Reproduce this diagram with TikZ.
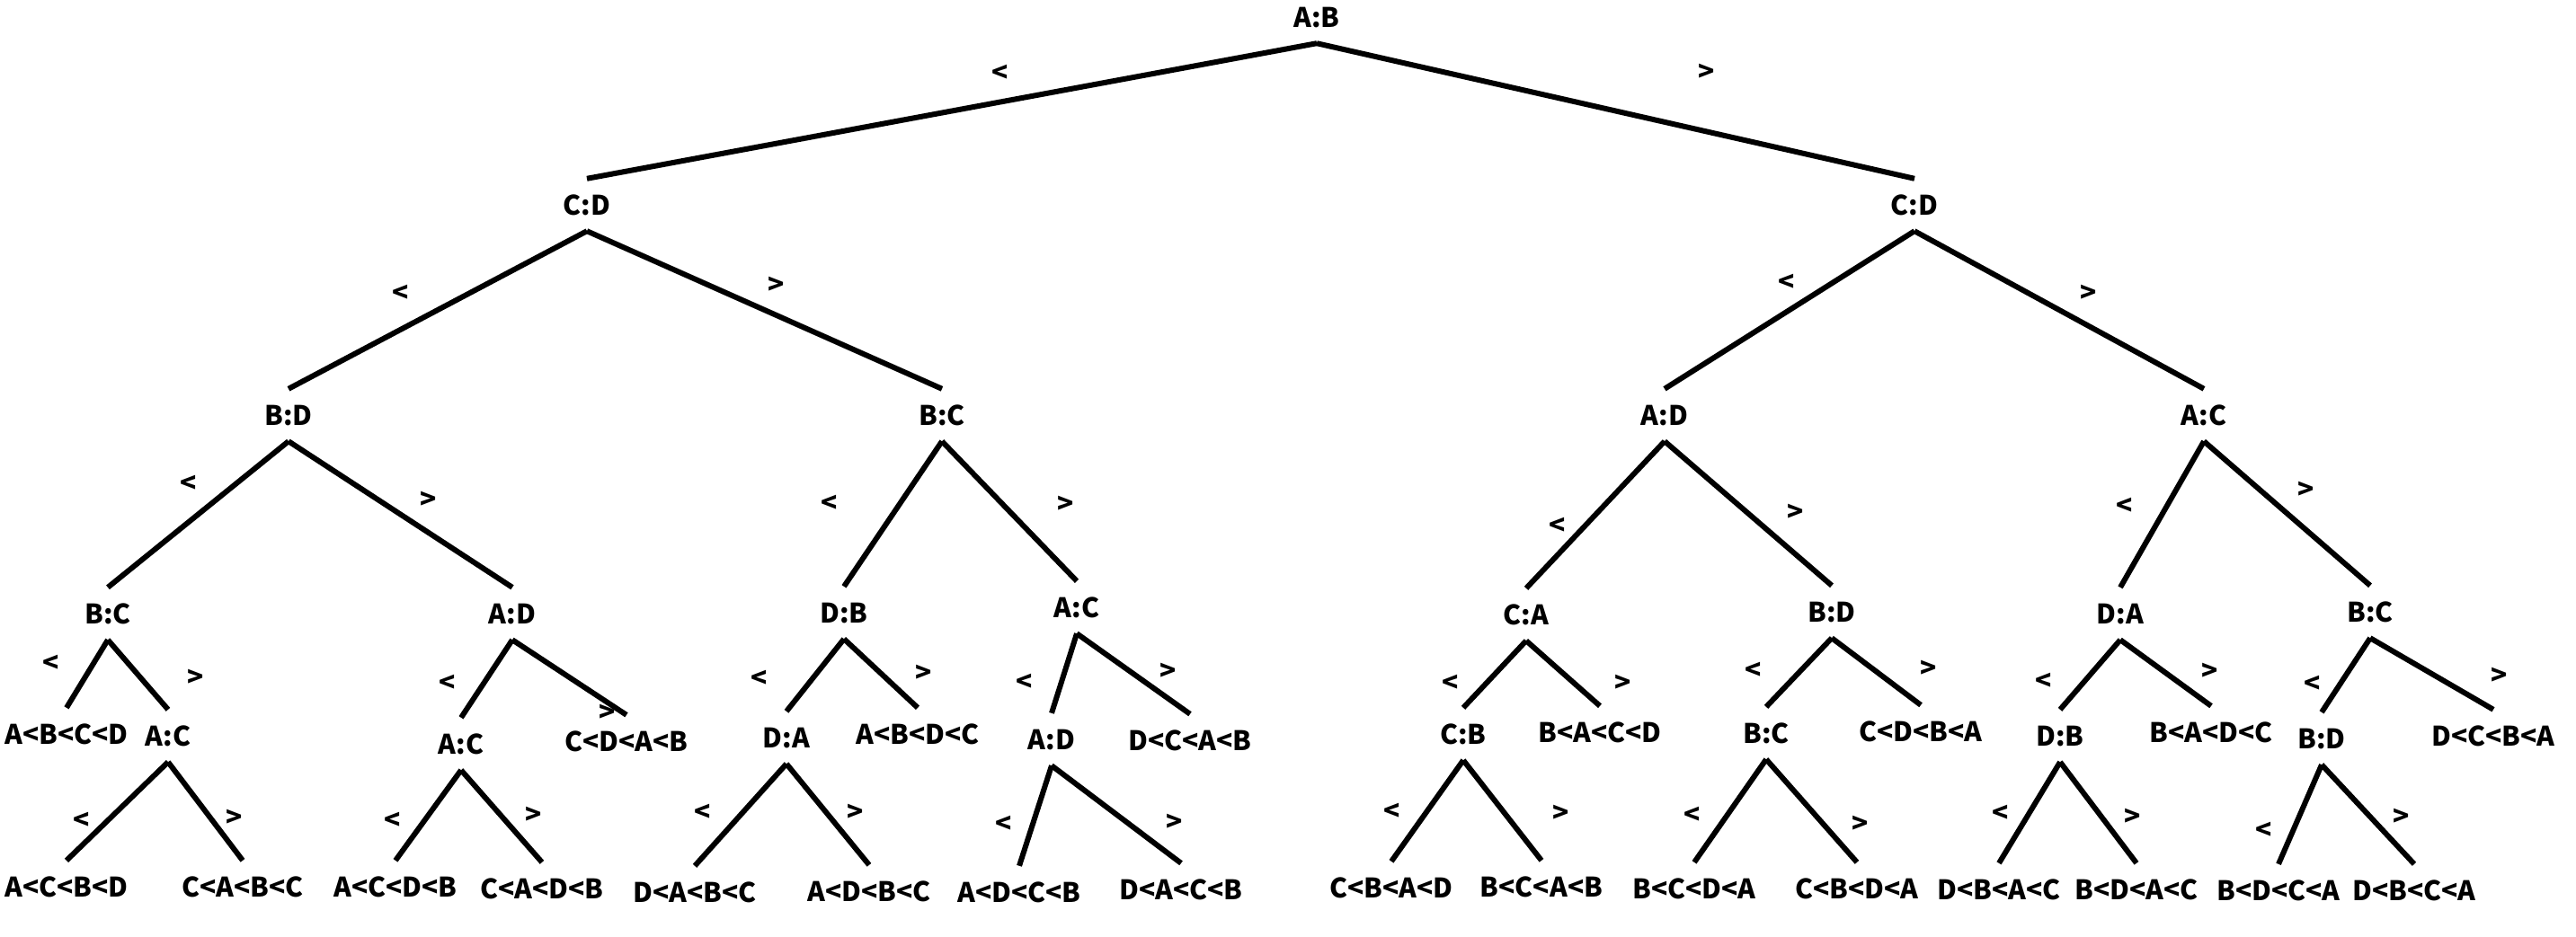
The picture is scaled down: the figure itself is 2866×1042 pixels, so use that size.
\documentclass[tikz,border=0pt]{standalone}
\usepackage{fontspec}
\setmainfont{Noto Sans CJK SC}
\begin{document}
\begin{tikzpicture}[x=1pt,y=-1pt,
  lbl/.style={font=\fontsize{30}{36}\selectfont\bfseries, inner xsep=0pt, inner ysep=0pt,
              minimum height=58pt, text height=22pt, text depth=0pt, anchor=center},
  sgn/.style={font=\fontsize{30}{36}\selectfont\bfseries, inner sep=0pt, anchor=center},
  edge/.style={line width=6pt}]
\useasboundingbox (0,0) rectangle (2866,1042);
% level 0-2
\node[lbl] (r) at (1465,19) {A:B};
\node[lbl] (r0) at (653,228) {C:D};
\node[lbl] (r1) at (2130,228) {C:D};
\node[lbl] (r00) at (321,462) {B:D};
\node[lbl] (r01) at (1048,462) {B:C};
\node[lbl] (r10) at (1852,462) {A:D};
\node[lbl] (r11) at (2452,462) {A:C};
% level 3
\node[lbl] (r000) at (120,683) {B:C};
\node[lbl] (r001) at (570,683) {A:D};
\node[lbl] (r010) at (939,682) {D:B};
\node[lbl] (r011) at (1198,676) {A:C};
\node[lbl] (r100) at (1698,684) {C:A};
\node[lbl] (r101) at (2038,681) {B:D};
\node[lbl] (r110) at (2359,683) {D:A};
\node[lbl] (r111) at (2637,681) {B:C};
% level 4
\node[lbl] (r0000) at (74,817) {A<B<C<D};
\node[lbl] (r0001) at (187,819) {A:C};
\node[lbl] (r0010) at (513,828) {A:C};
\node[lbl] (r0011) at (697,825) {C<D<A<B};
\node[lbl] (r0100) at (875,821) {D:A};
\node[lbl] (r0101) at (1021,817) {A<B<D<C};
\node[lbl] (r0110) at (1170,823) {A:D};
\node[lbl] (r0111) at (1324,824) {D<C<A<B};
\node[lbl] (r1000) at (1628,817) {C:B};
\node[lbl] (r1001) at (1780,815) {B<A<C<D};
\node[lbl] (r1010) at (1965,816) {B:C};
\node[lbl] (r1011) at (2137,814) {C<D<B<A};
\node[lbl] (r1100) at (2292,819) {D:B};
\node[lbl] (r1101) at (2460,815) {B<A<D<C};
\node[lbl] (r1110) at (2583,822) {B:D};
\node[lbl] (r1111) at (2774,819) {D<C<B<A};
% level 5
\node[lbl] (r00010) at (74,987) {A<C<B<D};
\node[lbl] (r00011) at (270,987) {C<A<B<C};
\node[lbl] (r00100) at (440,987) {A<C<D<B};
\node[lbl] (r00101) at (603,989) {C<A<D<B};
\node[lbl] (r01000) at (773,993) {D<A<B<C};
\node[lbl] (r01001) at (967,992) {A<D<B<C};
\node[lbl] (r01100) at (1134,993) {A<D<C<B};
\node[lbl] (r01101) at (1314,990) {D<A<C<B};
\node[lbl] (r10000) at (1548,988) {C<B<A<D};
\node[lbl] (r10001) at (1715,987) {B<C<A<B};
\node[lbl] (r10100) at (1885,989) {B<C<D<A};
\node[lbl] (r10101) at (2066,989) {C<B<D<A};
\node[lbl] (r11000) at (2224,990) {D<B<A<C};
\node[lbl] (r11001) at (2377,990) {B<D<A<C};
\node[lbl] (r11100) at (2535,991) {B<D<C<A};
\node[lbl] (r11101) at (2686,991) {D<B<C<A};
% edges
\foreach \p/\c in {r/r0,r/r1,r0/r00,r0/r01,r1/r10,r1/r11,
  r00/r000,r00/r001,r01/r010,r01/r011,r10/r100,r10/r101,r11/r110,r11/r111,
  r000/r0000,r000/r0001,r001/r0010,r001/r0011,r010/r0100,r010/r0101,r011/r0110,r011/r0111,
  r100/r1000,r100/r1001,r101/r1010,r101/r1011,r110/r1100,r110/r1101,r111/r1110,r111/r1111,
  r0001/r00010,r0001/r00011,r0010/r00100,r0010/r00101,r0100/r01000,r0100/r01001,r0110/r01100,r0110/r01101,
  r1000/r10000,r1000/r10001,r1010/r10100,r1010/r10101,r1100/r11000,r1100/r11001,r1110/r11100,r1110/r11101}
  \draw[edge] (\p.south) -- (\c.north);
% comparison signs
\foreach \n/\x/\y/\s in {
  s1/1113/82/<, s2/1899/81/>,
  s3/446/327/<, s4/864/318/>, s5/1988/315/<, s6/2324/327/>,
  s7/210/539/<, s8/477/557/>, s9/923/561/<, s10/1186/562/>,
  s11/1733/586/<, s12/1998/571/>, s13/2364/564/<, s14/2566/546/>,
  s15/57/739/<, s16/218/755/>, s17/498/761/<, s18/676/794/>,
  s19/845/756/<, s20/1028/750/>, s21/1140/760/<, s22/1300/748/>,
  s23/1614/761/<, s24/1806/761/>, s25/1951/747/<, s26/2146/745/>,
  s27/2274/759/<, s28/2459/748/>, s29/2573/762/<, s30/2781/753/>,
  s31/91/914/<, s32/261/911/>, s33/437/914/<, s34/594/908/>,
  s35/782/905/<, s36/952/905/>, s37/1117/918/<, s38/1307/916/>,
  s39/1549/904/<, s40/1737/906/>, s41/1883/908/<, s42/2070/918/>,
  s43/2226/906/<, s44/2373/910/>, s45/2519/925/<, s46/2672/910/>}
  \node[sgn] (\n) at (\x,\y) {\s};
\end{tikzpicture}
\end{document}
